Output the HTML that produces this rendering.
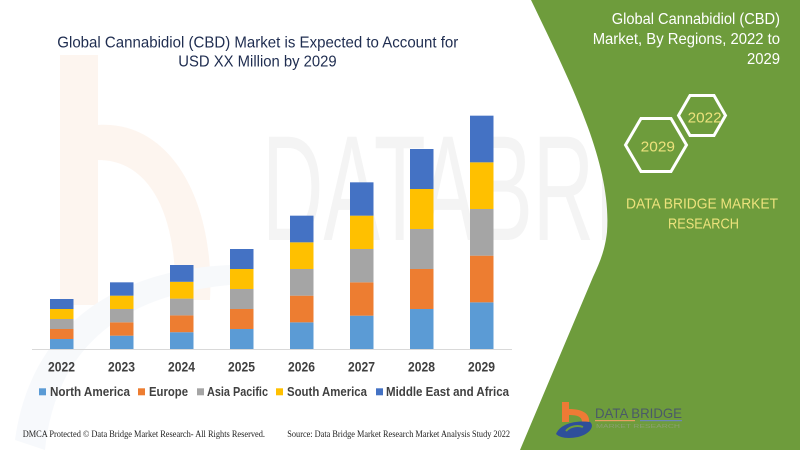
<!DOCTYPE html>
<html>
<head>
<meta charset="utf-8">
<style>
html,body{margin:0;padding:0;background:#fff;}
body{width:800px;height:450px;overflow:hidden;}
svg{display:block;}
</style>
</head>
<body>
<svg width="800" height="450" viewBox="0 0 800 450" xmlns="http://www.w3.org/2000/svg">
  <rect width="800" height="450" fill="#ffffff"/>

  <!-- faint watermark logo on left -->
  <g opacity="0.45">
    <rect x="60" y="55" width="38" height="250" fill="#fbe9dc"/>
    <path d="M98 125 C170 120 215 200 210 300 L175 300 C178 215 150 160 98 160 Z" fill="#fbe9dc"/>
    <path d="M15 440 C30 330 110 270 230 265 L230 285 C120 295 55 350 45 450 Z" fill="#eef2f8"/>
  </g>
  <!-- faint watermark letters -->
  <g font-family="Liberation Sans, sans-serif" fill="#f4f4f4">
    <text x="262" y="240" font-size="150" textLength="540" lengthAdjust="spacingAndGlyphs">DATABRIDGE</text>
  </g>

  <!-- green panel -->
  <path d="M531 0 C572 85 612 165 607 232 C605 250 600 262 593 277 L520 450 L800 450 L800 0 Z" fill="#6e9c3c"/>

  <!-- right title -->
  <g font-family="Liberation Sans, sans-serif" font-size="16" fill="#ffffff">
    <text x="611.7" y="24" textLength="168.3" lengthAdjust="spacingAndGlyphs">Global Cannabidiol (CBD)</text>
    <text x="592.7" y="44" textLength="187.3" lengthAdjust="spacingAndGlyphs">Market, By Regions, 2022 to</text>
    <text x="747" y="64" textLength="33" lengthAdjust="spacingAndGlyphs">2029</text>
  </g>

  <!-- hexagons -->
  <polygon points="678.5,115.5 690,95.5 714,95.5 725.5,115.5 714,135.5 690,135.5" fill="none" stroke="#ffffff" stroke-width="3"/>
  <polygon points="625.5,145 641,118.5 671,118.5 686.5,145 671,171.5 641,171.5" fill="none" stroke="#ffffff" stroke-width="3"/>
  <g font-family="Liberation Sans, sans-serif" font-size="15" fill="#ece27c">
    <text x="687.7" y="122.3" textLength="34" lengthAdjust="spacingAndGlyphs">2022</text>
    <text x="640.7" y="151.7" textLength="34.3" lengthAdjust="spacingAndGlyphs">2029</text>
    <text x="626" y="208.3" textLength="152" lengthAdjust="spacingAndGlyphs">DATA BRIDGE MARKET</text>
    <text x="668" y="228.3" textLength="71" lengthAdjust="spacingAndGlyphs">RESEARCH</text>
  </g>

  <!-- bottom logo -->
  <g>
    <rect x="562" y="402" width="7" height="20" fill="#ee7a35"/>
    <path d="M569 409 C583 409 590 414 589 422 L582 422 C582 417 578 415 569 415 Z" fill="#ee7a35"/>
    <path d="M556 434 C560 424 575 420 590 422 C595 426 590 434 578 437 C568 439 560 438 556 434 Z" fill="#2e4f9a"/>
    <path d="M566 431 C570 426 578 425 583 427" fill="none" stroke="#6e9c3c" stroke-width="2"/>
    <text x="595" y="418" font-family="Liberation Sans, sans-serif" font-size="14" fill="#4b5a68" textLength="87" lengthAdjust="spacingAndGlyphs">DATA BRIDGE</text>
    <rect x="595" y="420" width="40" height="1.2" fill="#e8a060"/>
    <rect x="640" y="420" width="42" height="1.2" fill="#6b88b8"/>
    <text x="596" y="428" font-family="Liberation Sans, sans-serif" font-size="5" fill="#8aa070" textLength="84" lengthAdjust="spacingAndGlyphs">MARKET RESEARCH</text>
  </g>

  <!-- chart title -->
  <g font-family="Liberation Sans, sans-serif" font-size="16" fill="#1f2d50">
    <text x="57.3" y="47.3" textLength="401" lengthAdjust="spacingAndGlyphs">Global Cannabidiol (CBD) Market is Expected to Account for</text>
    <text x="178.3" y="66.7" textLength="158.4" lengthAdjust="spacingAndGlyphs">USD XX Million by 2029</text>
  </g>

  <!-- axis -->
  <line x1="32" y1="349.5" x2="512" y2="349.5" stroke="#d9d9d9" stroke-width="1"/>

  <!-- bars -->
  <g>
    <rect x="50" y="339" width="23.5" height="10" fill="#5b9bd5"/>
    <rect x="50" y="329" width="23.5" height="10" fill="#ed7d31"/>
    <rect x="50" y="319" width="23.5" height="10" fill="#a5a5a5"/>
    <rect x="50" y="309" width="23.5" height="10" fill="#ffc000"/>
    <rect x="50" y="299" width="23.5" height="10" fill="#4472c4"/>

    <rect x="110" y="335.67" width="23.5" height="13.33" fill="#5b9bd5"/>
    <rect x="110" y="322.33" width="23.5" height="13.34" fill="#ed7d31"/>
    <rect x="110" y="309" width="23.5" height="13.33" fill="#a5a5a5"/>
    <rect x="110" y="295.67" width="23.5" height="13.33" fill="#ffc000"/>
    <rect x="110" y="282.33" width="23.5" height="13.34" fill="#4472c4"/>

    <rect x="170" y="332.2" width="23.5" height="16.8" fill="#5b9bd5"/>
    <rect x="170" y="315.4" width="23.5" height="16.8" fill="#ed7d31"/>
    <rect x="170" y="298.6" width="23.5" height="16.8" fill="#a5a5a5"/>
    <rect x="170" y="281.8" width="23.5" height="16.8" fill="#ffc000"/>
    <rect x="170" y="265" width="23.5" height="16.8" fill="#4472c4"/>

    <rect x="230" y="329" width="23.5" height="20" fill="#5b9bd5"/>
    <rect x="230" y="309" width="23.5" height="20" fill="#ed7d31"/>
    <rect x="230" y="289" width="23.5" height="20" fill="#a5a5a5"/>
    <rect x="230" y="269" width="23.5" height="20" fill="#ffc000"/>
    <rect x="230" y="249" width="23.5" height="20" fill="#4472c4"/>

    <rect x="290" y="322.33" width="23.5" height="26.67" fill="#5b9bd5"/>
    <rect x="290" y="295.67" width="23.5" height="26.66" fill="#ed7d31"/>
    <rect x="290" y="269" width="23.5" height="26.67" fill="#a5a5a5"/>
    <rect x="290" y="242.33" width="23.5" height="26.67" fill="#ffc000"/>
    <rect x="290" y="215.67" width="23.5" height="26.66" fill="#4472c4"/>

    <rect x="350" y="315.67" width="23.5" height="33.33" fill="#5b9bd5"/>
    <rect x="350" y="282.33" width="23.5" height="33.34" fill="#ed7d31"/>
    <rect x="350" y="249" width="23.5" height="33.33" fill="#a5a5a5"/>
    <rect x="350" y="215.67" width="23.5" height="33.33" fill="#ffc000"/>
    <rect x="350" y="182.33" width="23.5" height="33.34" fill="#4472c4"/>

    <rect x="410" y="309" width="23.5" height="40" fill="#5b9bd5"/>
    <rect x="410" y="269" width="23.5" height="40" fill="#ed7d31"/>
    <rect x="410" y="229" width="23.5" height="40" fill="#a5a5a5"/>
    <rect x="410" y="189" width="23.5" height="40" fill="#ffc000"/>
    <rect x="410" y="149" width="23.5" height="40" fill="#4472c4"/>

    <rect x="470" y="302.33" width="23.5" height="46.67" fill="#5b9bd5"/>
    <rect x="470" y="255.67" width="23.5" height="46.66" fill="#ed7d31"/>
    <rect x="470" y="209" width="23.5" height="46.67" fill="#a5a5a5"/>
    <rect x="470" y="162.33" width="23.5" height="46.67" fill="#ffc000"/>
    <rect x="470" y="115.67" width="23.5" height="46.66" fill="#4472c4"/>
  </g>

  <!-- year labels -->
  <g font-family="Liberation Sans, sans-serif" font-size="13.5" font-weight="bold" fill="#404040">
    <text x="48" y="371.5" textLength="27" lengthAdjust="spacingAndGlyphs">2022</text>
    <text x="108" y="371.5" textLength="27" lengthAdjust="spacingAndGlyphs">2023</text>
    <text x="168" y="371.5" textLength="27" lengthAdjust="spacingAndGlyphs">2024</text>
    <text x="228" y="371.5" textLength="27" lengthAdjust="spacingAndGlyphs">2025</text>
    <text x="288" y="371.5" textLength="27" lengthAdjust="spacingAndGlyphs">2026</text>
    <text x="348" y="371.5" textLength="27" lengthAdjust="spacingAndGlyphs">2027</text>
    <text x="408" y="371.5" textLength="27" lengthAdjust="spacingAndGlyphs">2028</text>
    <text x="468" y="371.5" textLength="27" lengthAdjust="spacingAndGlyphs">2029</text>
  </g>

  <!-- legend -->
  <g>
    <rect x="39" y="388.3" width="7" height="7" fill="#5b9bd5"/>
    <rect x="138" y="388.3" width="7" height="7" fill="#ed7d31"/>
    <rect x="197" y="388.3" width="7" height="7" fill="#a5a5a5"/>
    <rect x="276" y="388.3" width="7" height="7" fill="#ffc000"/>
    <rect x="376" y="388.3" width="7" height="7" fill="#4472c4"/>
  </g>
  <g font-family="Liberation Sans, sans-serif" font-size="12.5" font-weight="bold" fill="#404040">
    <text x="50" y="396" textLength="80" lengthAdjust="spacingAndGlyphs">North America</text>
    <text x="149" y="396" textLength="39" lengthAdjust="spacingAndGlyphs">Europe</text>
    <text x="207" y="396" textLength="61" lengthAdjust="spacingAndGlyphs">Asia Pacific</text>
    <text x="287" y="396" textLength="80" lengthAdjust="spacingAndGlyphs">South America</text>
    <text x="386" y="396" textLength="123" lengthAdjust="spacingAndGlyphs">Middle East and Africa</text>
  </g>

  <!-- footer -->
  <g font-family="Liberation Serif, serif" font-size="9" fill="#222222">
    <text x="22.7" y="437" textLength="242.3" lengthAdjust="spacingAndGlyphs">DMCA Protected © Data Bridge Market Research- All Rights Reserved.</text>
    <text x="287.3" y="437" textLength="222.7" lengthAdjust="spacingAndGlyphs">Source: Data Bridge Market Research Market Analysis Study 2022</text>
  </g>
</svg>
</body>
</html>
